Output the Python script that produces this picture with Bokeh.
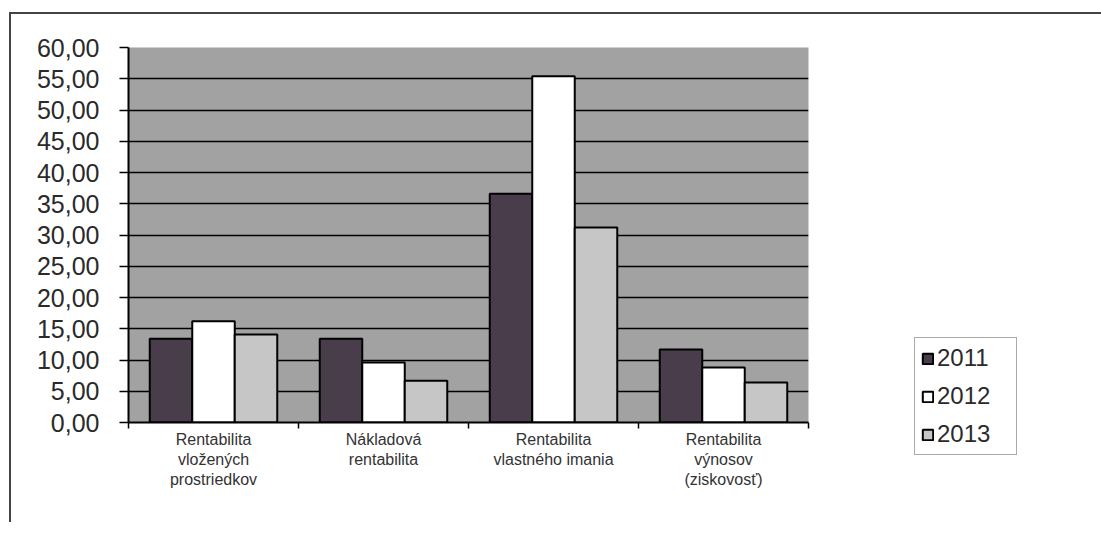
from bokeh.plotting import figure
from bokeh.models import ColumnDataSource, FixedTicker, Legend, LegendItem, Range1d
from bokeh.transform import dodge
from bokeh.embed import file_html
from bokeh.resources import INLINE

categories = [
    "Rentabilita\nvložených\nprostriedkov",
    "Nákladová\nrentabilita",
    "Rentabilita\nvlastného imania",
    "Rentabilita\nvýnosov\n(ziskovosť)",
]
years = ["2011", "2012", "2013"]
v2011 = [13.4, 13.4, 36.6, 11.7]
v2012 = [16.2, 9.6, 55.4, 8.8]
v2013 = [14.1, 6.7, 31.2, 6.4]
y_ticks = [0, 5, 10, 15, 20, 25, 30, 35, 40, 45, 50, 55, 60]

colors = ["#4a3d4b", "#ffffff", "#c6c6c6"]
FONT = "Liberation Sans"

pos = [i + 0.5 for i in range(len(categories))]
src = ColumnDataSource(dict(x=pos, y2011=v2011, y2012=v2012, y2013=v2013))

p = figure(frame_width=680, frame_height=375,
           x_range=Range1d(0, len(categories)), y_range=Range1d(0, max(y_ticks)),
           output_backend="svg", toolbar_location=None,
           min_border_left=117, min_border_top=33, min_border_right=10,
           min_border_bottom=100)
p.styles = {"border-top": "2px solid #444", "border-left": "2px solid #444"}
p.margin = (12, 0, 0, 9)

p.background_fill_color = "#a2a2a2"
p.border_fill_color = "white"
p.outline_line_color = None

# x axis
xa = p.xaxis[0]
xa.ticker = FixedTicker(ticks=pos, minor_ticks=list(range(len(categories) + 1)))
xa.major_label_overrides = {pp: c for pp, c in zip(pos, categories)}
xa.major_tick_line_color = None
xa.major_tick_out = 0
xa.major_tick_in = 0
xa.minor_tick_in = 0
xa.minor_tick_out = 6
xa.minor_tick_line_color = "black"
xa.minor_tick_line_width = 1.5
xa.axis_line_color = "black"
xa.axis_line_width = 2
xa.major_label_standoff = 2
xa.major_label_text_font = FONT
xa.major_label_text_font_size = "16px"
xa.major_label_text_color = "#333333"
xa.major_label_text_line_height = 1.2

# y axis
ya = p.yaxis[0]
ya.ticker = FixedTicker(ticks=y_ticks, minor_ticks=[])
ya.major_label_overrides = {t: f"{t:.2f}".replace(".", ",") for t in y_ticks}
ya.major_tick_out = 9
ya.major_tick_in = 0
ya.major_tick_line_color = "black"
ya.major_tick_line_width = 1.5
ya.axis_line_color = "black"
ya.axis_line_width = 2
ya.major_label_standoff = 20
ya.major_label_text_font = FONT
ya.major_label_text_font_size = "25px"
ya.major_label_text_color = "#2a2a2a"

p.xgrid.grid_line_color = None
p.ygrid.ticker = FixedTicker(ticks=y_ticks)
p.ygrid.grid_line_color = "black"
p.ygrid.grid_line_width = 1.5

offsets = [-0.25, 0.0, 0.25]
fields = ["y2011", "y2012", "y2013"]
renderers = []
for f, off, c in zip(fields, offsets, colors):
    r = p.vbar(x=dodge("x", off), top=f, width=0.25, source=src,
               fill_color=c, line_color="black", line_width=2)
    renderers.append(r)

legend = Legend(items=[LegendItem(label=y, renderers=[r]) for y, r in zip(years, renderers)],
                location=(106, -33))
legend.border_line_color = "#555555"
legend.border_line_width = 1
legend.background_fill_color = "white"
legend.label_text_font = FONT
legend.label_text_font_size = "24px"
legend.label_text_color = "#2a2a2a"
legend.glyph_width = 13
legend.glyph_height = 13
legend.label_standoff = 3
legend.label_height = 23
legend.label_width = 73
legend.spacing = 10
legend.padding = 6
legend.margin = 0
p.add_layout(legend, "right")

open("out.html", "w").write(file_html(p, INLINE))
